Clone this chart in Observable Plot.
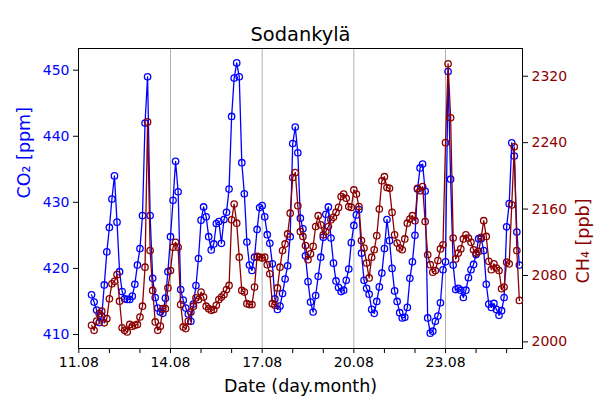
<!DOCTYPE html>
<html><head><meta charset="utf-8">
<script src="https://cdn.jsdelivr.net/npm/d3@7"></script>
<script src="https://cdn.jsdelivr.net/npm/@observablehq/plot@0.6"></script>
<style>
body{margin:0;background:#fff}
#wrap{position:relative;width:600px;height:400px}
#wrap svg{position:absolute;left:0;top:0}
</style>
</head><body><div id="wrap"></div>
<script>
// CO2 [ppm] and CH4 [ppb], Sodankylä, 2-hourly samples from 11.08 10:00 UTC
const co2 = [416.0,414.9,413.7,411.8,412.8,417.5,422.5,426.2,430.5,434.0,
427.0,419.5,416.5,415.4,415.3,415.3,415.8,417.6,420.5,423.0,
428.0,442.0,449.0,428.0,418.5,415.6,414.0,413.4,413.2,415.5,
419.5,424.8,430.3,436.2,431.6,416.8,415.2,414.0,413.1,412.0,
414.6,417.4,421.5,427.3,429.3,427.8,424.8,422.8,423.7,426.8,
427.1,423.8,427.4,428.5,432.0,443.0,448.8,451.1,449.0,436.0,
431.3,424.0,420.5,419.7,421.7,425.9,429.2,429.5,427.8,425.1,
423.8,420.7,415.4,413.8,414.3,416.2,418.4,420.4,424.8,438.9,
441.4,437.5,427.6,426.0,421.9,418.0,414.9,413.4,415.9,418.8,
421.7,424.7,428.2,429.3,424.6,420.8,418.1,417.1,416.5,416.7,
418.2,419.9,423.9,426.5,428.1,428.9,422.3,418.2,417.0,416.1,
413.8,413.2,415.0,417.2,419.3,423.0,427.4,424.2,420.0,416.6,
415.0,413.3,412.5,412.6,414.1,418.5,421.0,425.0,432.0,435.2,
435.8,431.7,412.5,410.2,410.5,412.0,412.8,414.8,419.8,421.0,
449.8,433.5,420.5,416.8,417.0,416.7,415.6,416.7,418.6,419.8,
420.6,422.1,424.5,424.5,422.7,417.6,414.6,414.1,414.7,413.8,
412.9,413.6,415.6,426.3,429.8,439.0,437.0,425.5,420.5];
const ch4 = [2020,2014,2025,2034,2037,2023,2028,2052,2070,2073,
2081,2049,2017,2014,2012,2021,2019,2020,2021,2030,
2043,2090,2265,2110,2062,2024,2014,2019,2040,2040,
2065,2086,2114,2120,2114,2045,2018,2016,2025,2036,
2043,2053,2051,2060,2054,2043,2040,2038,2039,2044,
2051,2054,2057,2063,2068,2147,2166,2143,2102,2062,
2060,2046,2045,2045,2066,2103,2102,2101,2102,2093,
2082,2046,2044,2065,2090,2110,2118,2130,2155,2198,
2204,2164,2133,2127,2116,2099,2106,2115,2139,2152,
2141,2129,2133,2139,2147,2150,2156,2162,2175,2178,
2173,2163,2162,2183,2178,2163,2122,2113,2095,2077,
2102,2111,2128,2160,2194,2199,2186,2185,2156,2129,
2119,2113,2111,2124,2143,2148,2152,2146,2185,2182,
2187,2145,2105,2093,2084,2086,2098,2112,2117,2240,
2335,2270,2125,2100,2107,2112,2124,2129,2125,2120,
2111,2107,2109,2126,2146,2127,2097,2087,2094,2089,
2086,2064,2066,2096,2094,2165,2235,2110,2050];
const firstSample = Date.UTC(2023, 7, 11, 10);
const stepHours = 2;
const xTickDays = [11,12,13,14,15,16,17,18,19,20,21,22,23,24,25];
const xLabelDays = [11,14,17,20,23];
const xLabels = ["11.08","14.08","17.08","20.08","23.08"];
const co2Ticks = [410,420,430,440,450];
const ch4Ticks = [2000,2080,2160,2240,2320];

const times = co2.map((_, i) => new Date(firstSample + i * stepHours * 3600000));
const co2Data = co2.map((v, i) => ({t: times[i], v}));
const ch4Data = ch4.map((v, i) => ({t: times[i], v}));
const day = d => new Date(Date.UTC(2023, 7, d));
const xDomain = [new Date(Date.UTC(2023,7,10,23,45)), new Date(Date.UTC(2023,7,25,12,27))];

const common = {width:600, height:400, marginLeft:78, marginRight:78, marginTop:48, marginBottom:52};
const font = {fontFamily:"DejaVu Sans", fontSize:"14px"};
const BLUE = "#0000ff", RED = "#8b0000";

const p1 = Plot.plot({
  ...common,
  style: {...font, background:"white", overflow:"visible"},
  x: {type:"utc", domain:xDomain, axis:null},
  y: {domain:[407.88, 453.28], axis:null},
  marks: [
    Plot.gridX(xLabelDays.slice(1).map(day), {stroke:"#b0b0b0", strokeOpacity:1, strokeWidth:1}),
    Plot.line(co2Data, {x:"t", y:"v", stroke:BLUE, strokeWidth:1.3}),
    Plot.dot(co2Data, {x:"t", y:"v", r:3.2, stroke:BLUE, strokeWidth:1.3, fill:"none"}),
    Plot.frame({stroke:"black", strokeWidth:1}),
    Plot.axisX(xTickDays.map(day), {tickSize:5, tickPadding:4, fontSize:14, stroke:"black", fill:"black", label:null,
      tickFormat: d => { const i = xLabelDays.indexOf(d.getUTCDate()); return i >= 0 ? xLabels[i] : ""; }}),
    Plot.axisY(co2Ticks, {anchor:"left", tickSize:5, tickPadding:4, fontSize:14, stroke:"black", fill:BLUE, label:null, tickFormat: d => String(d)}),
    Plot.text(["Sodankylä"], {frameAnchor:"top", dy:-8, fontSize:19.4, fill:"black", lineAnchor:"bottom"}),
    Plot.text(["Date (day.month)"], {frameAnchor:"bottom", dy:38, fontSize:17.5, fill:"black", lineAnchor:"middle"}),
    Plot.text(["CO₂ [ppm]"], {frameAnchor:"left", dx:-54, rotate:-90, fontSize:17.5, fill:BLUE, lineAnchor:"middle"})
  ]
});

const p2 = Plot.plot({
  ...common,
  style: {...font, background:"transparent", overflow:"visible"},
  x: {type:"utc", domain:xDomain, axis:null},
  y: {domain:[1992.05, 2353.4], axis:null},
  marks: [
    Plot.line(ch4Data, {x:"t", y:"v", stroke:RED, strokeWidth:1.3}),
    Plot.dot(ch4Data, {x:"t", y:"v", r:3.2, stroke:RED, strokeWidth:1.3, fill:"none"}),
    Plot.axisY(ch4Ticks, {anchor:"right", tickSize:5, tickPadding:4, fontSize:14, stroke:"black", fill:RED, label:null, tickFormat: d => String(d)}),
    Plot.text(["CH₄ [ppb]"], {frameAnchor:"right", dx:61, rotate:-90, fontSize:17.5, fill:RED, lineAnchor:"middle"})
  ]
});

const wrap = document.getElementById("wrap");
wrap.appendChild(p1);
wrap.appendChild(p2);
</script>
</body></html>
